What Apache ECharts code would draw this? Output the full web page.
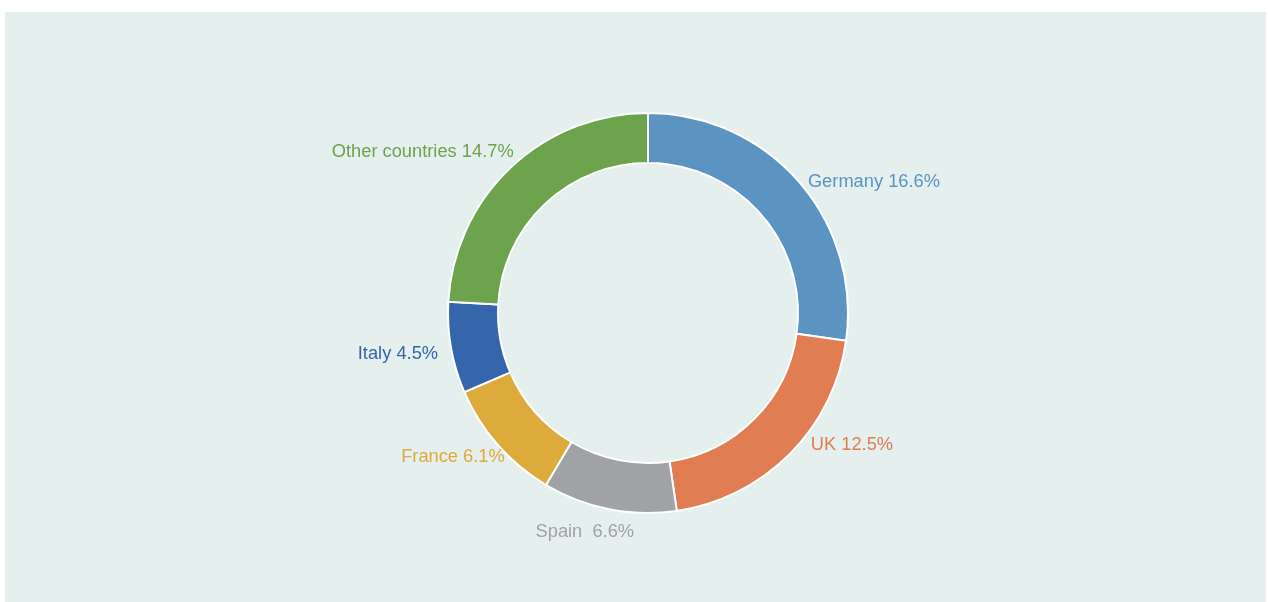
<!DOCTYPE html>
<html style="height: 100%">
  <head>
    <meta charset="UTF-8" />
    <title>Share by country</title>
    <script src="https://cdn.jsdelivr.net/npm/echarts@6/dist/echarts.min.js"></script>
  </head>
  <body style="height: 100%; margin: 0; background: #fff; position: relative; overflow: hidden">
    <div style="position: absolute; left: 5px; top: 12px; width: 1261px; height: 600px; background: #e5efed"></div>
    <div id="main" style="position: absolute; left: 0; top: 0; width: 1268px; height: 602px"></div>
    <script>
      const countries = ['Germany', 'UK', 'Spain', 'France', 'Italy', 'Other countries']
      const shares = [16.6, 12.5, 6.6, 6.1, 4.5, 14.7]
      const labelTexts = ['Germany 16.6%', 'UK 12.5%', 'Spain  6.6%', 'France 6.1%', 'Italy 4.5%', 'Other countries 14.7%']
      const colors = ['#5b93c1', '#e07d52', '#a0a2a5', '#dcab3b', '#3566ab', '#6ca34c']

      // small nudges so labels sit where the original put them
      const nudge = [
        [9, 0],
        [21, -9],
        [25, 23],
        [7, 12],
        [-13, 6],
        [3, -16],
      ]

      const chart = echarts.init(document.getElementById('main'))

      const option = {
        backgroundColor: 'transparent',
        animation: false,
        series: [
          {
            type: 'pie',
            center: [648, 313],
            radius: [150, 200],
            startAngle: 90,
            avoidLabelOverlap: false,
            itemStyle: {
              borderColor: '#ffffff',
              borderWidth: 2,
            },
            label: {
              show: true,
              position: 'outside',
              distanceToLabelLine: 0,
              fontFamily: 'Liberation Sans, Arial, sans-serif',
              fontSize: 18.3,
              formatter: (p) => labelTexts[p.dataIndex],
            },
            labelLine: { show: false, length: 0, length2: 0 },
            labelLayout: (p) => ({ dx: nudge[p.dataIndex][0], dy: nudge[p.dataIndex][1] }),
            data: countries.map((name, i) => ({
              name,
              value: shares[i],
              itemStyle: { color: colors[i] },
              label: { color: colors[i] },
            })),
          },
        ],
      }

      chart.setOption(option)
    </script>
  </body>
</html>
